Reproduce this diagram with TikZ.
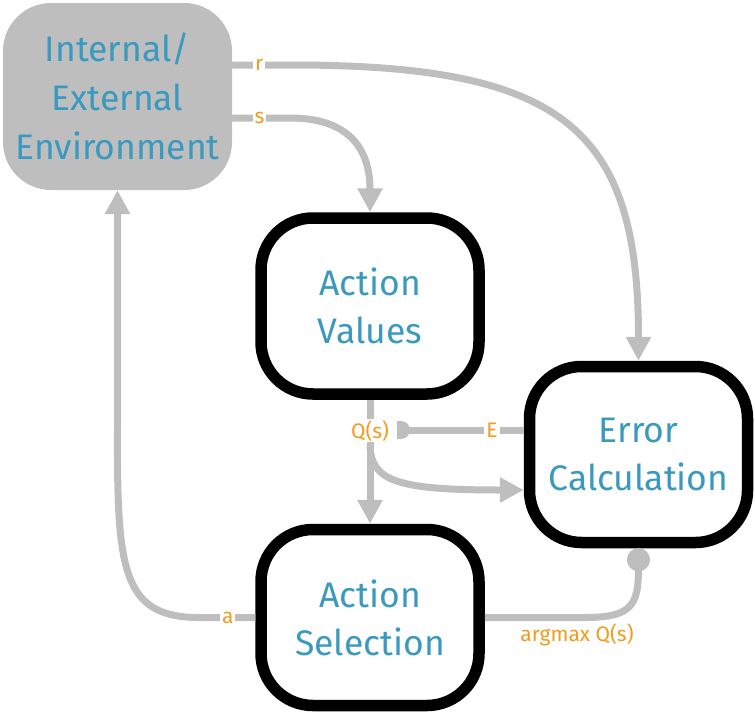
\documentclass[tikz,border=0pt]{standalone}
\usepackage{fontspec}
\setmainfont{Fira Sans}
\usetikzlibrary{arrows.meta}
\definecolor{boxblue}{HTML}{3A99BE}
\definecolor{lblorange}{HTML}{F29B1D}
\definecolor{flowgray}{HTML}{BEBEBE}

\tikzset{
  envbox/.style={fill=flowgray, rounded corners=48pt, minimum width=229pt, minimum height=187pt,
    inner sep=0pt, align=center, text=boxblue, font=\fontsize{35.5}{49}\selectfont},
  unitbox/.style={draw=black, line width=11.5pt, fill=white, rounded corners=52pt, minimum width=218pt,
    minimum height=176pt, inner sep=0pt, align=center, text=boxblue, font=\fontsize{35.5}{48}\selectfont},
  flow/.style={draw=flowgray, line width=7pt},
  lbl/.style={fill=white, inner sep=2pt, text=lblorange, font=\fontsize{21}{24}\selectfont},
  tri/.tip={Triangle[length=24pt, width=24pt]}
}

\begin{document}
\begin{tikzpicture}[x=1pt, y=-1pt]
        \useasboundingbox (0,0) rectangle (755,715);

        % Define the four boxes
        \node[envbox]  (Env) at (117.5, 96.5) {Internal/\\External\\Environment};
        \node[unitbox] (AV)  at (370, 306)    {Action\\Values};
        \node[unitbox] (Err) at (638.5, 454.5) {Error\\Calculation};
        \node[unitbox] (AS)  at (370, 617.5)  {Action\\Selection};

        % Reward and state from the environment
        \draw[flow, -tri] ([yshift=31.5pt]Env.east) -- ++(60,0) node[lbl, pos=0.45] {r}
            .. controls (565,65) and (638.5,130) .. (Err.north);
        \draw[flow, -tri] ([yshift=-21.5pt]Env.east) -- ++(58,0) node[lbl, pos=0.47] {s}
            .. controls (345,118) and (370,145) .. (AV.north);

        % Action values to selection and error
        \draw[flow, -tri] (AV.south) -- (AS.north) node[lbl, pos=0.25, inner sep=1pt] (Q) {Q(s)};
        \draw[flow, -tri] (Q.south) .. controls (371,482) and (400,490) .. ([yshift=-35.5pt]Err.west);

        % Error signal back to the action values
        \coordinate (Et) at (397,430);
        \draw[flow] ([yshift=24.5pt]Err.west) -- (Et) node[lbl, pos=0.25] {E};
        \fill[flowgray] (Et) ++(0,9) -- ++(4,0) arc[start angle=90, end angle=-90, radius=9]
            -- ++(-4,0) -- cycle;

        % Selected action back to the environment
        \draw[flow, -tri] (AS.west) -- ++(-55,0) node[lbl, pos=0.5] {a}
            .. controls (122,618) and (117,570) .. (117.5,430) -- (Env.south);

        % Greedy action to the error calculation
        \draw[flow, -{Circle[length=23pt]}] (AS.east) -- (585,617.5)
            node[lbl, fill=none, below=1pt, pos=0.92] {argmax Q(s)}
            .. controls (632,617.5) and (638.5,605) .. (Err.south);

\end{tikzpicture}
\end{document}
